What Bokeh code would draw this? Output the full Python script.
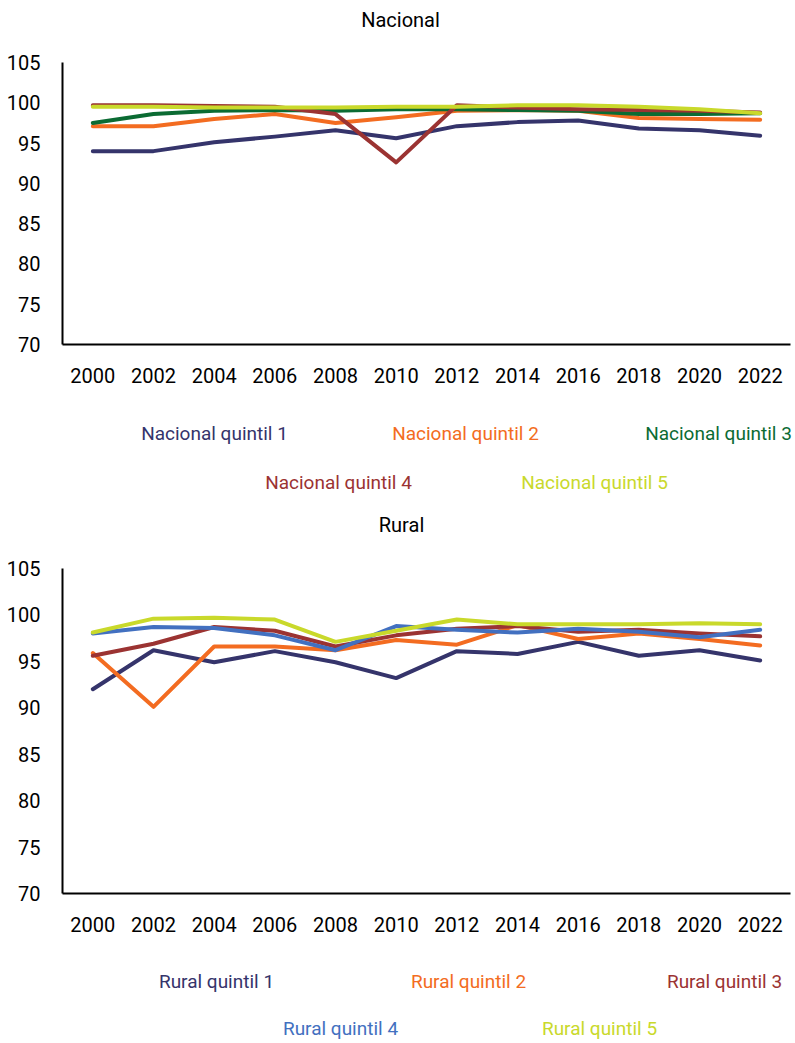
from bokeh.plotting import figure
from bokeh.layouts import column
from bokeh.models import FixedTicker, Range1d
from bokeh.embed import file_html
from bokeh.resources import INLINE
from bokeh.core.properties import value

# ---------------- data ----------------
years = [2000, 2002, 2004, 2006, 2008, 2010, 2012, 2014, 2016, 2018, 2020, 2022]
y_ticks = [70, 75, 80, 85, 90, 95, 100, 105]

nacional_labels = ["Nacional quintil 1", "Nacional quintil 2", "Nacional quintil 3",
                   "Nacional quintil 4", "Nacional quintil 5"]
nacional_q1 = [94.0, 94.0, 95.1, 95.8, 96.6, 95.6, 97.1, 97.6, 97.8, 96.8, 96.6, 95.9]
nacional_q2 = [97.1, 97.1, 98.0, 98.6, 97.5, 98.2, 99.0, 99.1, 99.0, 98.1, 98.0, 97.9]
nacional_q3 = [97.5, 98.6, 99.0, 99.1, 99.0, 99.2, 99.2, 99.1, 99.0, 98.6, 98.6, 98.7]
nacional_q4 = [99.7, 99.7, 99.6, 99.5, 98.6, 92.6, 99.7, 99.4, 99.2, 99.1, 99.0, 98.8]
nacional_q5 = [99.5, 99.5, 99.4, 99.4, 99.4, 99.5, 99.5, 99.7, 99.7, 99.5, 99.2, 98.7]

rural_labels = ["Rural quintil 1", "Rural quintil 2", "Rural quintil 3",
                "Rural quintil 4", "Rural quintil 5"]
rural_q1 = [92.0, 96.2, 94.9, 96.1, 94.9, 93.2, 96.1, 95.8, 97.1, 95.6, 96.2, 95.1]
rural_q2 = [95.9, 90.1, 96.6, 96.6, 96.2, 97.3, 96.8, 98.9, 97.4, 98.0, 97.4, 96.7]
rural_q3 = [95.6, 96.9, 98.7, 98.3, 96.6, 97.8, 98.5, 98.8, 98.2, 98.4, 98.0, 97.7]
rural_q4 = [98.0, 98.7, 98.6, 97.8, 96.2, 98.8, 98.4, 98.1, 98.5, 98.2, 97.6, 98.4]
rural_q5 = [98.1, 99.6, 99.7, 99.5, 97.1, 98.3, 99.5, 99.0, 99.0, 99.0, 99.1, 99.0]

titles = ["Nacional", "Rural"]

# ---------------- style ----------------
FONT = "Roboto"
FS = "20px"
LFS = "19px"
W = 795
nac_colors = ["#35346b", "#f36c21", "#0b6b33", "#9b3332", "#c9d92b"]
rur_colors = ["#35346b", "#f36c21", "#9b3332", "#4270c0", "#c9d92b"]


def no_align(f):
    try:
        f.frame_align = False
    except Exception:
        pass


def text_fig(h, items):
    f = figure(width=W, height=h, x_range=Range1d(0, W), y_range=Range1d(h, 0),
               output_backend="svg", toolbar_location=None, min_border=0, title=None,
               x_axis_location=None, y_axis_location=None)
    no_align(f)
    f.grid.visible = False
    f.outline_line_color = None
    for txt, x, y, color, size in items:
        f.text(x=[x], y=[y], text=[txt], text_color=color, text_font=value(FONT),
               text_font_size=size, text_align="center", text_baseline="alphabetic")
    return f


def chart(top, frame_h, bottom, series, colors):
    p = figure(width=W, height=top + frame_h + bottom,
               x_range=Range1d(1999, 2023), y_range=Range1d(70, 105),
               min_border_left=62, min_border_right=5, min_border_top=top,
               min_border_bottom=bottom, output_backend="svg", toolbar_location=None)
    p.grid.visible = False
    p.outline_line_color = None
    for vals, c in zip(series, colors):
        p.line(years, vals, line_color=c, line_width=4, line_join="round", line_cap="round")
    p.xaxis.ticker = FixedTicker(ticks=years)
    p.yaxis.ticker = FixedTicker(ticks=y_ticks)
    for ax in p.axis:
        ax.major_tick_line_color = None
        ax.minor_tick_line_color = None
        ax.axis_line_color = "black"
        ax.axis_line_width = 2
        ax.major_label_text_font = FONT
        ax.major_label_text_font_size = FS
        ax.major_label_text_color = "black"
    p.xaxis.major_label_standoff = 17
    p.yaxis.major_label_standoff = 16
    return p


t1 = text_fig(40, [(titles[0], 400, 19, "black", FS)])
c1 = chart(22, 282, 56, [nacional_q1, nacional_q2, nacional_q3, nacional_q4, nacional_q5],
           nac_colors)
leg1_pos = [(214, 33), (465, 33), (718, 33), (338, 82), (594, 82)]
l1 = text_fig(148, [(lab, x, y, c, LFS) for lab, (x, y), c in
                    zip(nacional_labels, leg1_pos, nac_colors)]
              + [(titles[1], 401, 124, "black", FS)])
c2 = chart(20, 325, 56, [rural_q1, rural_q2, rural_q3, rural_q4, rural_q5], rur_colors)
leg2_pos = [(216, 32), (468, 32), (724, 32), (340, 79), (599, 79)]
l2 = text_fig(94, [(lab, x, y, c, LFS) for lab, (x, y), c in
                   zip(rural_labels, leg2_pos, rur_colors)])

layout = column(t1, c1, l1, c2, l2, spacing=0)
open("out.html", "w").write(file_html(layout, INLINE))
